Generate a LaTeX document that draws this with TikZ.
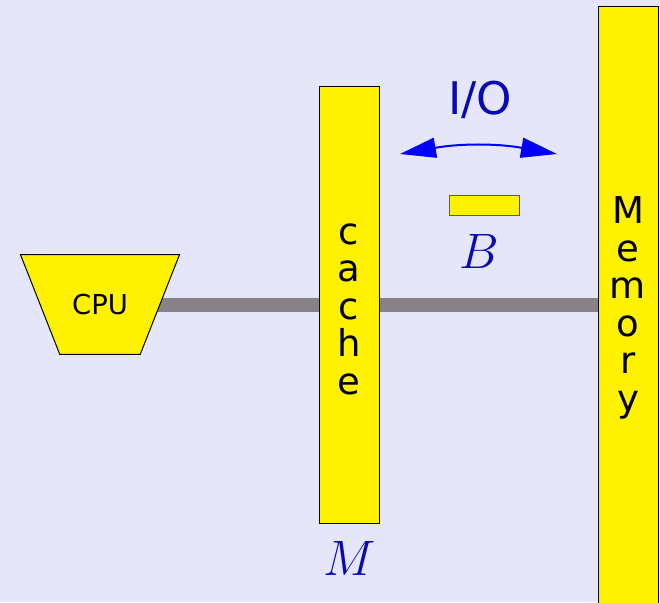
\documentclass[tikz,border=0pt]{standalone}
\usepackage{fontspec}
\setmainfont{DejaVu Sans}
\usepackage{tikz}
\usetikzlibrary{arrows.meta,positioning,shapes.geometric,backgrounds}
\definecolor{bgcol}{RGB}{230,230,250}
\definecolor{buscol}{RGB}{135,130,135}
\definecolor{lblcol}{RGB}{10,10,180}

\begin{document}
\begin{tikzpicture}[x=0.5pt,y=-0.5pt,
box/.style={draw,fill=yellow,line width=.5pt,inner sep=0pt,align=center},
tall/.style={box,minimum width=30pt,font=\fontsize{18.5}{18.75}\selectfont},
lbl/.style={text=lblcol,inner sep=0pt,font=\fontsize{24}{28}\selectfont},
arr/.style={{Triangle[length=18pt,width=10pt]}-{Triangle[length=18pt,width=10pt]},blue,line width=1pt}]
\useasboundingbox (0,0) rectangle (660,602);
\node[box,trapezium,shape border rotate=180,trapezium angle=68.5,trapezium stretches body=true,inner xsep=0pt,inner ysep=19.75pt,minimum width=79.5pt,font=\fontsize{13.7}{16}\selectfont] (cpu) at (100,304.5) {CPU};
\node[tall,minimum height=218.5pt] (cache) at (349,304.5) {\rule{0pt}{15pt}c\\a\\c\\h\\e};
\node[tall,minimum height=302pt] (mem) at (628,308) {M\\e\\m\\o\\r\\y};
\node[box,draw=gray!70!black,minimum width=35pt,minimum height=10pt] (blk) at (484,205) {};
\node[lbl] (blk-lbl) at (479,251) {$B$};
\node[lbl] (cache-lbl) at (350,558) {$M$};
\node[lbl,font=\fontsize{22.5}{26}\selectfont] (io) at (480,100) {I/O};
\coordinate (io-l) at (400,154);
\coordinate (io-r) at (557,154);
\draw[arr] (io-l) to[bend left=10] (io-r);
\begin{scope}[on background layer]
\fill[bgcol] (0,0) rectangle (660,602);
\draw[buscol,line width=7pt] (cpu.center) -- (cpu.center -| mem.center);
\end{scope}
\end{tikzpicture}
\end{document}
